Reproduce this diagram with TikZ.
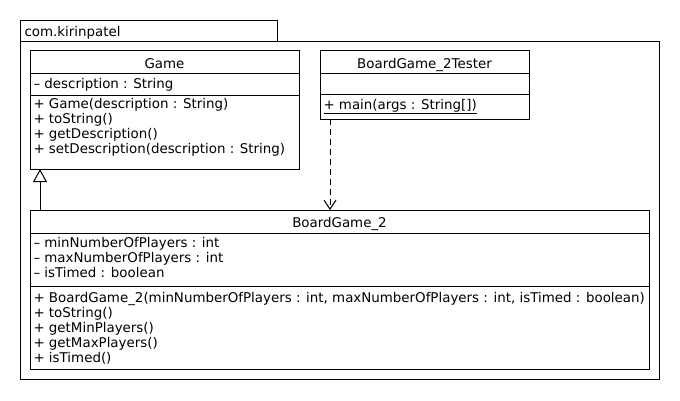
\documentclass[tikz,border=0pt]{standalone}
\usepackage{fontspec}
\newfontfamily\umlfont{DejaVu Sans}
\usetikzlibrary{positioning}
\usetikzlibrary{arrows.meta}

\tikzset{
    classbox/.style={draw, anchor=north west, inner sep=0pt, outer sep=0pt},
    member/.style={anchor=base west, inner sep=0pt, font=\umlfont\fontsize{13.4}{15}\selectfont},
    classname/.style={anchor=base, inner sep=0pt, font=\umlfont\fontsize{13.4}{15}\selectfont},
}

\begin{document}
\begin{tikzpicture}[x=1pt, y=-1pt, line width=1pt]
    \useasboundingbox (0,0) rectangle (680,400);

    % package
    \node[classbox, minimum width=257pt, minimum height=21pt] (tab) at (20,20) {};
    \node[member] (pkgname) at (24,36) {com.kirinpatel};
    \node[classbox, minimum width=639pt, minimum height=338pt] (pkg) at (20,41) {};

    % Game
    \node[classbox, minimum width=269pt, minimum height=119pt] (game) at (30,50) {};
    \node[classname] (gametitle) at (164.5,68) {Game};
    \draw (game.west |- 0,73) -- (game.east |- 0,73);
    \draw (game.west |- 0,95) -- (game.east |- 0,95);
    \node[member] (ga1) at (33,88) {– description : String};
    \foreach \m [count=\i] in {{+ Game(description : String)}, {+ toString()},
                               {+ getDescription()}, {+ setDescription(description : String)}}
        \node[member] (gm\i) at (33, 93 + 15 * \i) {\m};

    % BoardGame_2Tester
    \node[classbox, minimum width=209pt, minimum height=69pt] (tester) at (320,50) {};
    \node[classname] (testertitle) at (424.5,68) {BoardGame\_2Tester};
    \draw (tester.west |- 0,73) -- (tester.east |- 0,73);
    \draw (tester.west |- 0,94) -- (tester.east |- 0,94);
    \node[member] (tm1) at (323,109) {\underline{+ main(args : String[])}};

    % BoardGame_2
    \node[classbox, minimum width=619pt, minimum height=159pt] (bgame) at (30,210) {};
    \node[classname] (bgametitle) at (339.5,227) {BoardGame\_2};
    \draw (bgame.west |- 0,233) -- (bgame.east |- 0,233);
    \draw (bgame.west |- 0,286) -- (bgame.east |- 0,286);
    \foreach \a [count=\i] in {{– minNumberOfPlayers : int}, {– maxNumberOfPlayers : int},
                               {– isTimed : boolean}}
        \node[member] (ba\i) at (33, 232 + 15 * \i) {\a};
    \foreach \m [count=\i] in {{+ BoardGame\_2(minNumberOfPlayers : int, maxNumberOfPlayers : int, isTimed : boolean)},
                               {+ toString()}, {+ getMinPlayers()}, {+ getMaxPlayers()}, {+ isTimed()}}
        \node[member] (bm\i) at (33, 287 + 15 * \i) {\m};

    % relations
    \coordinate (genx) at (40,0);
    \coordinate (depx) at (330,0);
    \draw[-{Triangle[open, length=13pt, width=14pt]}]
        (bgame.north -| genx) -- (game.south -| genx);
    \draw[dash pattern=on 6pt off 4pt, -{Straight Barb[length=9pt, width=12pt]}]
        (tester.south -| depx) -- (bgame.north -| depx);
\end{tikzpicture}
\end{document}
